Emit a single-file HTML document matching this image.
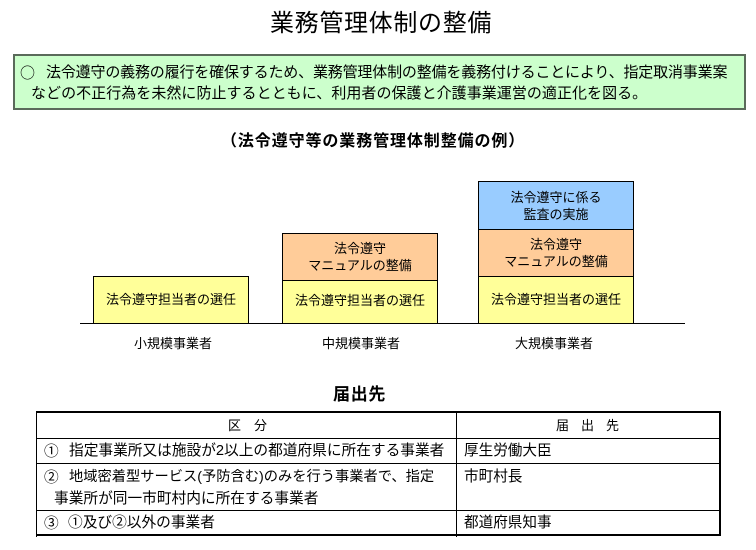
<!DOCTYPE html>
<html lang="ja"><head><meta charset="utf-8"><style>
html,body{margin:0;padding:0;background:#fff}
#p{position:relative;width:756px;height:550px;overflow:hidden;background:#fff;font-family:"Liberation Sans","Noto Sans CJK JP",sans-serif;color:#000}
.a{position:absolute;box-sizing:border-box}
.t{position:absolute;white-space:nowrap;line-height:1}
.j{font-family:"Noto Sans CJK JP",sans-serif}
.c{position:absolute;box-sizing:border-box;border:1px solid #000;display:flex;align-items:center;justify-content:center;text-align:center;font-size:13px;line-height:17px}
.y{background:#ffff99}.o{background:#ffcc99}.b{background:#99ccff}
.k{background:#000}
</style></head><body><div id="p">
<div class="t" style="left:270px;top:12px;font-size:24px;letter-spacing:.67px">業務管理体制の整備</div>
<div class="a" style="left:13px;top:54px;width:733px;height:56px;background:#ccffcc;border:2px solid #5a6a5a"></div>
<div class="t j" style="left:20px;top:65px;font-size:15px">○</div>
<div class="t" style="left:46px;top:65px;font-size:15px;letter-spacing:-.17px">法令遵守の義務の履行を確保するため、業務管理体制の整備を義務付けることにより、指定取消事業案</div>
<div class="t" style="left:31px;top:86px;font-size:15px;letter-spacing:.04px">などの不正行為を未然に防止するとともに、利用者の保護と介護事業運営の適正化を図る。</div>
<div class="t" style="left:221px;top:134px;font-size:16px;font-weight:bold;letter-spacing:.9px">（法令遵守等の業務管理体制整備の例）</div>

<div class="c y" style="left:93px;top:276px;width:156px;height:48px;padding-bottom:1px">法令遵守担当者の選任</div>
<div class="c o" style="left:282px;top:233px;width:156px;height:48px">法令遵守<br>マニュアルの整備</div>
<div class="c y" style="left:282px;top:280px;width:156px;height:44px;padding-bottom:3px">法令遵守担当者の選任</div>
<div class="c b" style="left:478px;top:181px;width:156px;height:49px">法令遵守に係る<br>監査の実施</div>
<div class="c o" style="left:478px;top:229px;width:156px;height:48px">法令遵守<br>マニュアルの整備</div>
<div class="c y" style="left:478px;top:276px;width:156px;height:48px;padding-bottom:1px">法令遵守担当者の選任</div>
<div class="a k" style="left:80px;top:323px;width:605px;height:1px"></div>
<div class="t" style="left:134px;top:337px;font-size:13px">小規模事業者</div>
<div class="t" style="left:322px;top:337px;font-size:13px">中規模事業者</div>
<div class="t" style="left:515px;top:337px;font-size:13px">大規模事業者</div>

<div class="t" style="left:333px;top:386px;font-size:17px;font-weight:bold;letter-spacing:.7px">届出先</div>
<div class="a k" style="left:36px;top:411px;width:685px;height:2px"></div>
<div class="a k" style="left:36px;top:534px;width:685px;height:2px"></div>
<div class="a k" style="left:36px;top:411px;width:1px;height:126px"></div>
<div class="a k" style="left:719px;top:411px;width:2px;height:125px"></div>
<div class="a k" style="left:456px;top:411px;width:1px;height:126px"></div>
<div class="a k" style="left:36px;top:438px;width:685px;height:1px"></div>
<div class="a k" style="left:36px;top:463px;width:685px;height:1px"></div>
<div class="a k" style="left:36px;top:510px;width:685px;height:1px"></div>
<div class="t" style="left:228px;top:419px;font-size:13px;letter-spacing:13px">区分</div>
<div class="t" style="left:556px;top:419px;font-size:13px;letter-spacing:12px">届出先</div>
<div class="t j" style="left:44px;top:444px;font-size:14.7px">①</div>
<div class="t" style="left:69px;top:444px;font-size:14.7px">指定事業所又は施設が2以上の都道府県に所在する事業者</div>
<div class="t" style="left:464px;top:444px;font-size:14.6px">厚生労働大臣</div>
<div class="t j" style="left:44px;top:470px;font-size:14.7px">②</div>
<div class="t" style="left:69px;top:470px;font-size:14.25px">地域密着型サービス(予防含む)のみを行う事業者で、指定</div>
<div class="t" style="left:54px;top:492px;font-size:14.7px">事業所が同一市町村内に所在する事業者</div>
<div class="t" style="left:464px;top:470px;font-size:14.6px">市町村長</div>
<div class="t j" style="left:44px;top:516px;font-size:14.7px">③</div>
<div class="t" style="left:68px;top:516px;font-size:14.7px">①及び②以外の事業者</div>
<div class="t" style="left:464px;top:516px;font-size:14.6px">都道府県知事</div>
</div></body></html>
